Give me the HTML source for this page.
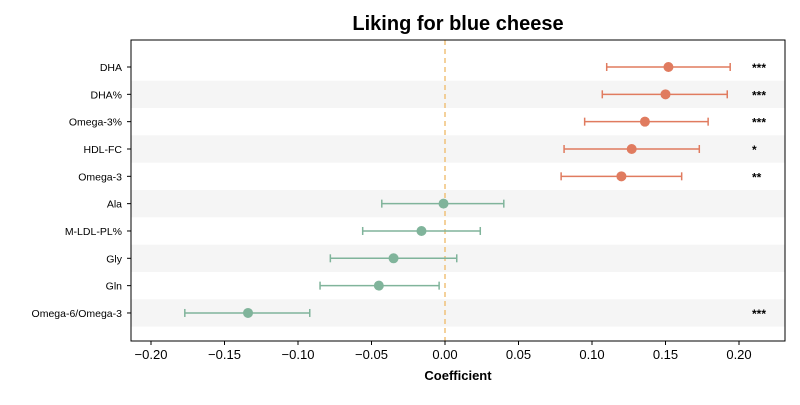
<!DOCTYPE html>
<html><head><meta charset="utf-8"><style>
body{margin:0;background:#fff;font-family:"Liberation Sans",sans-serif}
svg text{font-family:"Liberation Sans",sans-serif}
</style></head><body>
<svg id="chart" width="800" height="400" xmlns="http://www.w3.org/2000/svg">
<text x="458" y="30" text-anchor="middle" font-size="20" font-weight="bold">Liking for blue cheese</text>
<g id="bands"></g><g id="marks"></g>
<rect x="131" y="40" width="654" height="301" fill="none" stroke="#000" stroke-width="1"/>
<text x="458" y="380" text-anchor="middle" font-size="13" font-weight="bold">Coefficient</text>
</svg>
<script>
const labels=["DHA","DHA%","Omega-3%","HDL-FC","Omega-3","Ala","M-LDL-PL%","Gly","Gln","Omega-6/Omega-3"];
const coef=[0.152,0.150,0.136,0.127,0.120,-0.001,-0.016,-0.035,-0.045,-0.134];
const lower=[0.110,0.107,0.095,0.081,0.079,-0.043,-0.056,-0.078,-0.085,-0.177];
const upper=[0.194,0.192,0.179,0.173,0.161,0.040,0.024,0.008,-0.004,-0.092];
const stars=["***","***","***","*","**","","","","","***"];
const xTicks=[-0.20,-0.15,-0.10,-0.05,0.00,0.05,0.10,0.15,0.20];
const X=v=>445+v*1470, Y=i=>67+i*27.33;
const ns="http://www.w3.org/2000/svg";
function mk(p,t,a){const e=document.createElementNS(ns,t);for(const k in a)e.setAttribute(k,a[k]);p.appendChild(e);return e;}
const bands=document.getElementById('bands'),marks=document.getElementById('marks'),svg=document.getElementById('chart');
labels.forEach((l,i)=>{
 if(i%2==1){const b=mk(bands,'rect',{x:131,y:Y(i)-13.67,width:654,height:27.33,fill:'#f5f5f5'});
 
 }
 const t=mk(svg,'text',{x:122,y:Y(i)+4,'text-anchor':'end','font-size':10.5});t.textContent=l;
 
 
 mk(svg,'line',{x1:127,x2:131,y1:Y(i),y2:Y(i),stroke:'#000'});
});
mk(marks,'line',{x1:X(0),x2:X(0),y1:40,y2:341,stroke:'#f0c27a','stroke-width':1.5,'stroke-dasharray':'5,4'});
coef.forEach((c,i)=>{
 const col=c>0.06?'#e07b5f':'#80b49b';const y=Y(i);
 const g=mk(marks,'g',{});
 
 
 mk(g,'line',{x1:X(lower[i]),x2:X(upper[i]),y1:y,y2:y,stroke:col,'stroke-width':1.5});
 mk(g,'line',{x1:X(lower[i]),x2:X(lower[i]),y1:y-4,y2:y+4,stroke:col,'stroke-width':1.5});
 mk(g,'line',{x1:X(upper[i]),x2:X(upper[i]),y1:y-4,y2:y+4,stroke:col,'stroke-width':1.5});
 mk(g,'circle',{cx:X(c),cy:y,r:5,fill:col});
 if(stars[i]){const s=mk(svg,'text',{x:752,y:y+5,'font-size':12,'font-weight':'bold'});s.textContent=stars[i];
 
 }
});
xTicks.forEach(v=>{
 mk(svg,'line',{x1:X(v),x2:X(v),y1:341,y2:345,stroke:'#000'});
 const t=mk(svg,'text',{x:X(v),y:359,'text-anchor':'middle','font-size':13});
 t.textContent=(v<0?'\u2212':'')+Math.abs(v).toFixed(2);
 
 
});
</script>
</body></html>
